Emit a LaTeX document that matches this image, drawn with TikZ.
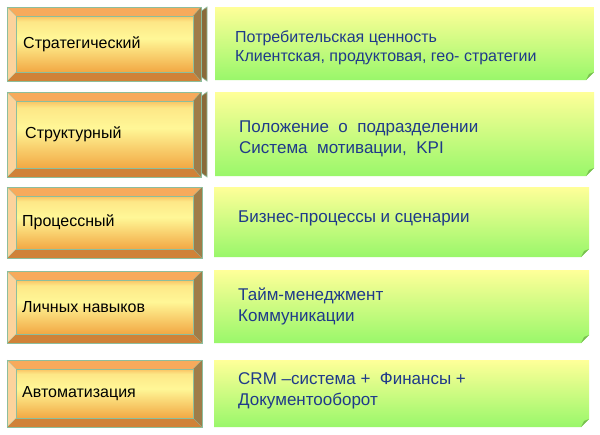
\documentclass[tikz,border=0pt]{standalone}
\usepackage{fontspec}
\setmainfont{Liberation Sans}
\definecolor{navy}{HTML}{1F3A8A}
\definecolor{bevline}{HTML}{8DBE9C}
\definecolor{topface}{HTML}{F7AA5C}
\definecolor{botface}{HTML}{D08238}
\definecolor{leftface}{HTML}{FCD39C}
\definecolor{rightface}{HTML}{A07C48}
\definecolor{rightfacel}{HTML}{B8965A}
\definecolor{rightface2}{HTML}{8A6A3A}
\definecolor{innertop}{HTML}{F9C262}
\definecolor{innermid}{HTML}{FFF797}
\definecolor{innerbot}{HTML}{F2A844}
\definecolor{gtop}{HTML}{FFFF99}
\definecolor{gbot}{HTML}{99F76A}
\definecolor{foldc}{HTML}{78BE50}
\pgfdeclareverticalshading{bevinner}{100bp}{color(0bp)=(innerbot); color(25bp)=(innerbot); color(55bp)=(innermid); color(70bp)=(innermid!70!innertop); color(75bp)=(innertop); color(100bp)=(innertop)}
\tikzset{
  lab/.style={anchor=west, font=\fontsize{16}{18}\selectfont, text=black, inner sep=0pt},
  desc/.style={anchor=west, align=left, font=\fontsize{17}{21}\selectfont, text=navy, inner sep=0pt},
  desca/.style={anchor=west, align=left, font=\fontsize{16}{19}\selectfont, text=navy, inner sep=0pt},
  bevedge/.style={draw=bevline, line width=0.6pt},
  greenbox/.style={top color=gtop, bottom color=gbot, draw=none},
}
% x1,y1,x2,y2,inner right x
\newcommand\bevbox[5]{%
  \fill[topface] (#1,#2) -- (#3,#2) -- (#5,#2+9) -- (#1+9,#2+9) -- cycle;
  \fill[botface] (#1,#4) -- (#3,#4) -- (#5,#4-9) -- (#1+9,#4-9) -- cycle;
  \fill[leftface] (#1,#2) -- (#1+9,#2+9) -- (#1+9,#4-9) -- (#1,#4) -- cycle;
  \fill[rightface] (#3,#2) -- (#5,#2+9) -- (#5,#4-9) -- (#3,#4) -- cycle;
  \shade[shading=bevinner] (#1+9,#2+9) rectangle (#5,#4-9);
  \draw[bevedge] (#1+9,#2+9) rectangle (#5,#4-9);
  \draw[bevedge, draw opacity=0.5] (#1,#2) -- (#1+9,#2+9) (#1,#4) -- (#1+9,#4-9) (#3,#2) -- (#5,#2+9) (#3,#4) -- (#5,#4-9);
  \draw[bevedge] (#1,#2) rectangle (#3,#4);
}
% extra right strip: x1, x2, y1, y2
\newcommand\bevstrip[4]{%
  \fill[rightface2] (#1,#3+5) -- (#2,#3) -- (#2,#4) -- (#1,#4-5) -- cycle;
  \draw[bevedge] (#1,#3+5) -- (#2,#3) -- (#2,#4) -- (#1,#4-5);
}
% x1,y1,x2,y2
\newcommand\gbox[4]{%
  \shade[greenbox] (#1,#2) -- (#3,#2) -- (#3,#4-8) -- (#3-8,#4) -- (#1,#4) -- cycle;
  \fill[foldc] (#3,#4-8) -- (#3-8,#4) -- (#3-5,#4-6) -- cycle;
}
\begin{document}
\begin{tikzpicture}[x=1pt,y=-1pt]
\useasboundingbox (0,0) rectangle (600,434);
\fill[white] (0,0) rectangle (600,434);

% row 1
\bevstrip{200}{207}{7}{81}
\bevbox{7}{7}{201}{81}{193}
% row 2
\bevstrip{200}{207}{92}{177}
\bevbox{7}{92}{201}{177}{193}
\gbox{215}{7}{594}{80}
\gbox{215}{92}{594}{176}
% row 3
\bevbox{7}{187}{202}{258}{193}
\gbox{214}{187}{589}{257}
% row 4
\bevbox{7}{271}{202}{343}{193}
\gbox{214}{270}{589}{343}
% row 5
\bevbox{7}{360}{202}{427}{193}
\gbox{214}{360}{589}{427}

\node[lab] (l1) at (23,44) {Стратегический};
\node[lab] (l2) at (25,134.5) {Структурный};
\node[lab] (l3) at (22,222.5) {Процессный};
\node[lab] (l4) at (22,307) {Личных навыков};
\node[lab] (l5) at (22,393.5) {Автоматизация};

\node[desca] (d1) at (235,47.5) {Потребительская ценность\\Клиентская, продуктовая, гео- стратегии};
\node[desc] (d2) at (239,138.5) {Положение \ о \ подразделении\\Система \ мотивации, \ KPI};
\node[desc] (d3) at (238,218) {Бизнес-процессы и сценарии};
\node[desc] (d4) at (238,306.5) {Тайм-менеджмент\\Коммуникации};
\node[desc] (d5) at (238,390.5) {CRM –система + \ Финансы +\\Документооборот};
\end{tikzpicture}
\end{document}
